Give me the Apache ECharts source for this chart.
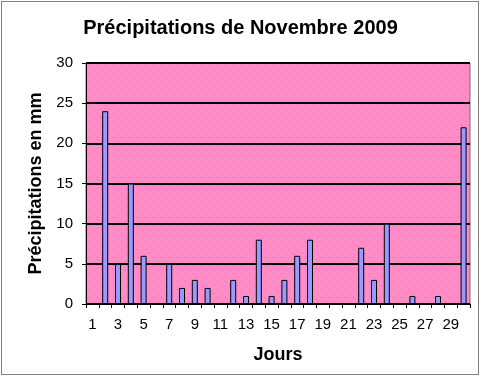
<!DOCTYPE html>
<html>
<head>
<meta charset="utf-8">
<script src="https://cdn.jsdelivr.net/npm/echarts@6/dist/echarts.min.js"></script>
<style>
    html, body { margin: 0; padding: 0; background: #fff; }
    #chart { width: 481px; height: 377px; }
</style>
</head>
<body>
<div id="chart"></div>
<script>
    // jours du mois et pluie en mm
    var jours = [];
    for (var d = 1; d <= 30; d++) { jours.push(String(d)); }
    var pluie = [0, 24, 5, 15, 6, 0, 5, 2, 3, 2,
                 0, 3, 1, 8, 1, 3, 6, 8, 0, 0,
                 0, 7, 3, 10, 0, 1, 0, 1, 0, 22];
    var yTicks = [0, 5, 10, 15, 20, 25, 30];

    // fond rose pointille comme sous Excel
    var tile = document.createElement('canvas');
    tile.width = 8; tile.height = 8;
    var ctx = tile.getContext('2d');
    ctx.fillStyle = '#FF8CC6';
    ctx.fillRect(0, 0, 8, 8);
    ctx.fillStyle = '#F268AE';
    ctx.fillRect(1, 1, 1, 1);
    ctx.fillRect(5, 5, 1, 1);

    var font = '"Liberation Sans", Arial, sans-serif';
    var chart = echarts.init(document.getElementById('chart'));
    var option = {
        animation: false,
        textStyle: { fontFamily: font },
        title: {
            text: 'Précipitations de Novembre 2009',
            left: 'center',
            top: 13,
            textStyle: { fontSize: 20, fontWeight: 'bold', color: '#000', fontFamily: font }
        },
        graphic: [{
            type: 'rect',
            shape: { x: 1.5, y: 1.5, width: 477, height: 373 },
            style: { fill: 'none', stroke: '#000', lineWidth: 1, lineDash: [1, 1] },
            silent: true
        }],
        grid: {
            left: 86,
            right: 11,
            top: 63,
            bottom: 73,
            show: true,
            backgroundColor: { image: tile, repeat: 'repeat' },
            borderColor: '#6e6e6e',
            borderWidth: 1
        },
        xAxis: {
            type: 'category',
            data: jours,
            name: 'Jours',
            nameLocation: 'middle',
            nameGap: 42,
            nameTextStyle: { fontSize: 18, fontWeight: 'bold', color: '#000' },
            axisLine: { lineStyle: { color: '#000', width: 1 } },
            axisTick: { show: true, interval: 0, length: 4, lineStyle: { color: '#000' } },
            axisLabel: { interval: 1, color: '#000', fontSize: 15, margin: 13 }
        },
        yAxis: {
            type: 'value',
            min: yTicks[0],
            max: yTicks[yTicks.length - 1],
            interval: 5,
            name: 'Précipitations en mm',
            nameLocation: 'middle',
            nameGap: 40,
            nameTextStyle: { fontSize: 18, fontWeight: 'bold', color: '#000' },
            axisLine: { show: true, lineStyle: { color: '#000', width: 1 } },
            axisTick: { show: true, length: 4, lineStyle: { color: '#000' } },
            axisLabel: { color: '#000', fontSize: 15, margin: 13 },
            splitLine: { show: true, lineStyle: { color: '#000', width: 2 } }
        },
        series: [{
            type: 'bar',
            data: pluie,
            barWidth: 6,
            itemStyle: {
                color: '#9999FF',
                borderColor: '#000',
                borderWidth: 1
            }
        }]
    };
    chart.setOption(option);
</script>
</body>
</html>
